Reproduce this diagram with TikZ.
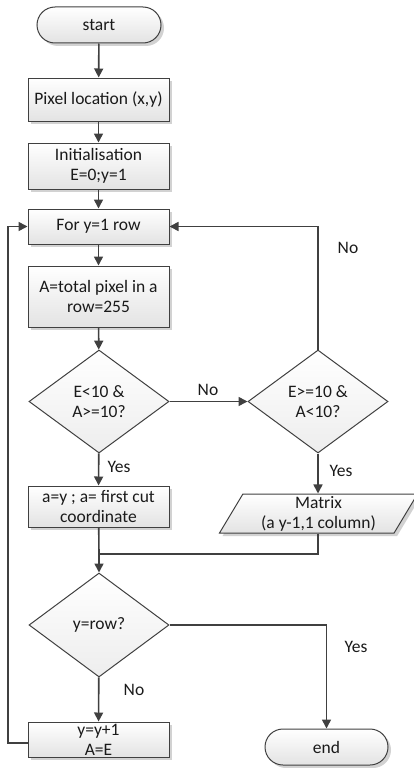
\documentclass[tikz,border=0pt]{standalone}
\usepackage{fontspec}
\setmainfont{Carlito}
\usetikzlibrary{shapes.geometric,shapes.misc,arrows.meta,shadows}
\definecolor{ln}{HTML}{404040}
\definecolor{tx}{HTML}{1A1A1A}
\tikzset{
  base/.style={draw=ln, line width=1pt, text=tx, font=\fontsize{17.5}{20}\selectfont, align=center, inner sep=0pt, top color=white, bottom color=gray!22},
  shad/.style={drop shadow={shadow xshift=3pt, shadow yshift=-3pt, fill=gray!35, opacity=1}},
  proc/.style={base, shad, rectangle, minimum width=141pt},
  term/.style={base, shad, rounded rectangle, minimum width=124pt, minimum height=36pt},
  dec/.style={base, diamond, minimum width=140pt, minimum height=103pt, top color=white, bottom color=gray!14},
  io/.style={base, shad, trapezium, trapezium left angle=63, trapezium right angle=117, trapezium stretches=true, minimum width=198pt, minimum height=39pt},
  conn/.style={draw=ln, line width=1.6pt, -{Triangle[width=9pt,length=9pt]}},
  plain/.style={draw=ln, line width=1.6pt},
  lbl/.style={text=tx, font=\fontsize{17.5}{20}\selectfont, inner sep=0pt}
}
\begin{document}
\begin{tikzpicture}[x=1pt,y=-1pt]
\useasboundingbox (0,0) rectangle (414,768);
\node[term] (start) at (99,25) {start};
\node[proc, minimum height=43pt] (pix) at (98.5,99.5) {Pixel location (x,y)};
\node[proc, minimum height=46pt] (init) at (98.5,166) {Initialisation\\E=0;y=1};
\node[proc, minimum height=35pt] (for) at (98.5,226.5) {For y=1 row};
\node[proc, minimum height=61pt] (tot) at (98.5,296.5) {A=total pixel in a\\row=255};
\node[dec] (d1) at (99,401.5) {E<10 \&\\A>=10?};
\node[dec] (d2) at (318,401.5) {E>=10 \&\\A<10?};
\node[proc, minimum height=41pt] (cut) at (98.5,506.5) {a=y ; a= first cut\\coordinate};
\node[io] (mat) at (318.5,513.5) {Matrix\\(a y-1,1 column)};
\node[dec, minimum height=104pt] (d3) at (99,625) {y=row?};
\node[proc, minimum height=35pt] (inc) at (98.5,739.5) {y=y+1\\A=E};
\node[term, minimum width=123pt] (end) at (326.5,747) {end};

\coordinate (m) at (99,554);
\coordinate (ll) at (8,743);
\coordinate (lt) at (8,226.5);

\draw[conn] (start) -- (pix);
\draw[conn] (pix) -- (init);
\draw[conn] (init) -- (for);
\draw[conn] (for) -- (tot);
\draw[conn] (tot) -- (d1);
\draw[conn] (d1) -- (d2);
\draw[conn] (d1) -- (cut);
\draw[conn] (d2) -- (mat.north -| d2);
\draw[conn] (d2.north) |- (for.east);
\draw[plain] (cut) -- (m);
\draw[plain] (mat.south -| d2) |- (m);
\draw[conn] (m) -- (d3);
\draw[conn] (d3) -- (inc);
\draw[conn] (d3.east) -| (end.north);
\draw[conn] (inc.west |- ll) -- (ll) -- (lt) -- (for.west);

\node[lbl] (n1) at (208,390) {No};
\node[lbl] (n2) at (348,248) {No};
\node[lbl] (y1) at (119,467) {Yes};
\node[lbl] (y2) at (341,471) {Yes};
\node[lbl] (y3) at (356,647) {Yes};
\node[lbl] (n3) at (134,690) {No};
\end{tikzpicture}
\end{document}
